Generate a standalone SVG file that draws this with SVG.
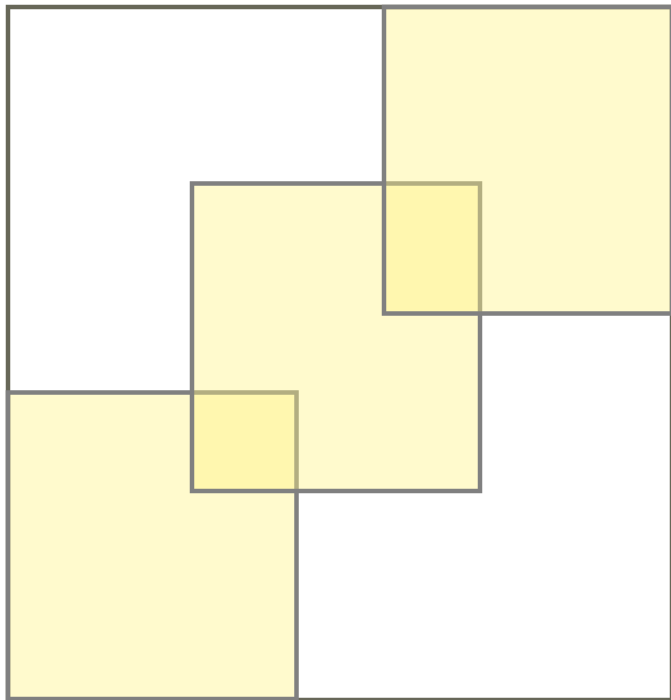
<svg xmlns="http://www.w3.org/2000/svg" width="671" height="700" viewBox="0 0 671 700">
  <style>
    .outer { fill: #ffffff; stroke: #676758; stroke-width: 4.5; }
    .sq { fill: rgb(255,242,130); fill-opacity: 0.4; stroke: #808080; stroke-width: 4.5; }
  </style>
  <rect width="671" height="700" fill="#ffffff"/>
  <g id="frame">
    <rect class="outer" x="8" y="7" width="664" height="693"/>
  </g>
  <g id="square-bottom-left">
    <rect class="sq" x="8" y="392.5" width="288.5" height="306.5"/>
  </g>
  <g id="square-middle">
    <rect class="sq" x="192" y="183.5" width="288" height="307.5"/>
  </g>
  <g id="square-top-right">
    <rect class="sq" x="384" y="7" width="288" height="306.5"/>
  </g>
  <g id="connectors"></g>
</svg>
